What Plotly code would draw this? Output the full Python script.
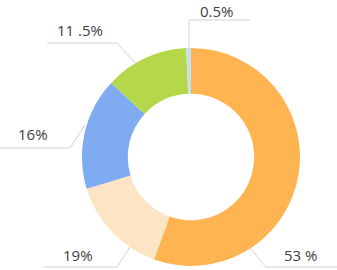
import plotly.graph_objects as go

# ---- data ----
labels = ["A", "B", "C", "D", "E"]
# slice sizes as drawn in the picture
values = [55.5, 14.8, 16.6, 12.4, 0.7]
# label texts as printed in the picture
label_texts = ["53 %", "19%", "16%", "11 .5%", "0.5%"]
colors = ["#FFB452", "#FCE4C4", "#7FABF1", "#B4D84A", "#C5E0F5"]

# ---- layout constants (pixels) ----
W, H = 337, 270
pie_left, pie_right, pie_top, pie_bottom = 82, 300, 48, 266

# leader line polylines (pixels) and label centers, per slice
leaders = [
    [(250, 248), (266, 267), (337, 267)],
    [(130, 247), (117, 267), (43, 267)],
    [(85, 125), (70, 148), (0, 148)],
    [(137, 65), (117, 43), (47, 43)],
    [(189, 48), (189, 20), (250, 20)],
]
label_pos = [(300, 253), (78, 253), (33, 132), (80, 28), (217, 8)]

def px(x):
    return x / W

def py(y):
    return 1 - y / H

fig = go.Figure(go.Pie(
    labels=labels,
    values=values,
    hole=0.58,
    sort=False,
    direction="clockwise",
    rotation=0,
    textinfo="none",
    marker=dict(colors=colors, line=dict(width=0)),
    domain=dict(x=[px(pie_left), px(pie_right)], y=[py(pie_bottom), py(pie_top)]),
    showlegend=False,
    hoverinfo="skip",
))

shapes = []
for pts in leaders:
    for (x0, y0), (x1, y1) in zip(pts[:-1], pts[1:]):
        shapes.append(dict(type="line", xref="paper", yref="paper",
                           x0=px(x0), y0=py(y0), x1=px(x1), y1=py(y1),
                           line=dict(color="#D2D2D2", width=1)))

annotations = []
for txt, (x, y) in zip(label_texts, label_pos):
    top = max(y - 9, 0)
    annotations.append(dict(text=txt, x=px(x), y=py(top), xref="paper", yref="paper",
                            showarrow=False, xanchor="center", yanchor="top",
                            borderpad=0,
                            font=dict(family="Open Sans", size=15, color="#404040")))

fig.update_layout(
    width=W, height=H,
    margin=dict(l=0, r=0, t=0, b=0),
    paper_bgcolor="white",
    plot_bgcolor="white",
    shapes=shapes,
    annotations=annotations,
)

fig.write_html("out.html")
